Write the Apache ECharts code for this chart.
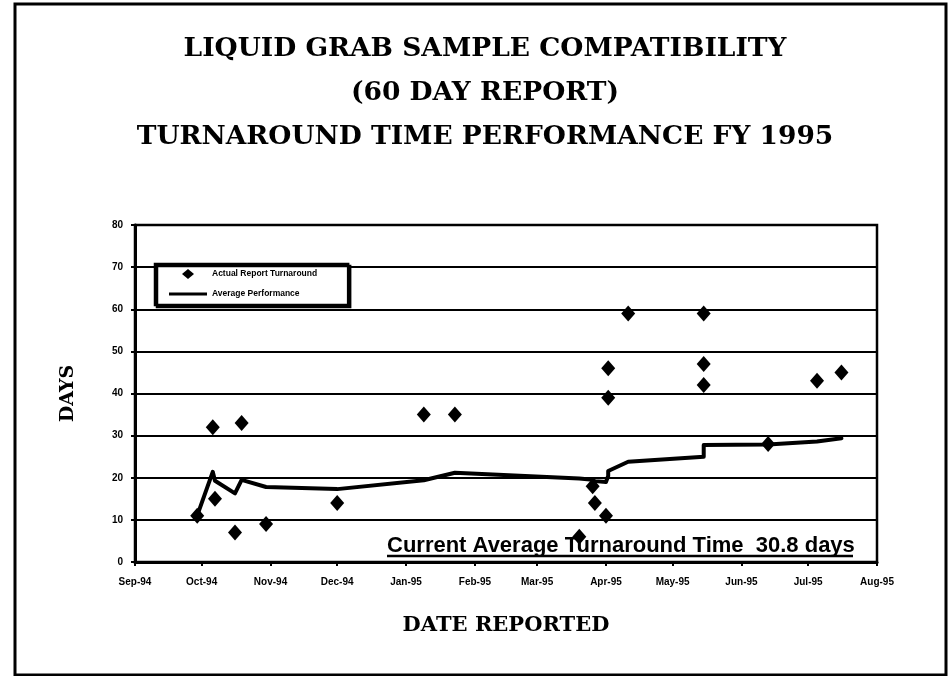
<!DOCTYPE html>
<html>
<head>
<meta charset="utf-8">
<title>Liquid Grab Sample Compatibility – Turnaround Time FY 1995</title>
<script src="https://cdn.jsdelivr.net/npm/echarts@6/dist/echarts.min.js"></script>
<style>
  html, body { margin: 0; padding: 0; background: #fff; }
  #chart { width: 950px; height: 676px; }
</style>
</head>
<body>
<div id="chart"></div>
<script>
// Report dates for each liquid grab sample (FY 1995)
const reportDates = [
  '1994-09-29', '1994-10-06', '1994-10-07', '1994-10-16', '1994-10-19', '1994-10-30',
  '1994-12-01', '1995-01-09', '1995-01-23', '1995-03-20', '1995-03-26', '1995-03-27',
  '1995-04-01', '1995-04-02', '1995-04-02', '1995-04-11', '1995-05-15', '1995-05-15',
  '1995-05-15', '1995-06-13', '1995-07-05', '1995-07-16'
];
// Actual turnaround (days) for each report
const turnaroundDays = [
  11, 32, 15, 7, 33, 9,
  14, 35, 35, 6, 18, 14,
  11, 46, 39, 59, 59, 47,
  42, 28, 43, 45
];
// Average performance (days) as of each report
const averageDays = [
  11, 21.4, 19.3, 16.3, 19.5, 17.8,
  17.3, 19.4, 21.2, 19.8, 19.5, 19.2,
  19.0, 20.4, 21.6, 23.8, 25.0, 26.8,
  27.8, 27.9, 28.6, 29.4
];
// Month tick labels, Sep-94 through Aug-95
const monthLabels = [
  'Sep-94', 'Oct-94', 'Nov-94', 'Dec-94', 'Jan-95', 'Feb-95',
  'Mar-95', 'Apr-95', 'May-95', 'Jun-95', 'Jul-95', 'Aug-95'
];
const yTicks = [0, 10, 20, 30, 40, 50, 60, 70, 80];

const titleLines = [
  'LIQUID GRAB SAMPLE COMPATIBILITY',
  '(60 DAY REPORT)',
  'TURNAROUND TIME PERFORMANCE FY 1995'
];
const noteText = 'Current Average Turnaround Time  30.8 days';

const DAY = 86400000;
const chart = echarts.init(document.getElementById('chart'), null, { renderer: 'canvas' });

const actualPoints = reportDates.map((d, i) => [d, turnaroundDays[i]]);
const averagePoints = reportDates.map((d, i) => [d, averageDays[i]]);

const serifBold = { fontFamily: 'DejaVu Serif', fontWeight: 'bold', color: '#000' };
const sansBold = { fontFamily: 'Liberation Sans', fontWeight: 'bold', color: '#000' };

// Legend icons: the leading move-to points fix the icon box at 38x10 so
// the diamond stays small and centred, and the line stays thin.
const legendDiamond = 'path://M0,0M38,10M19,0L25,5L19,10L13,5Z';
const legendLine = 'path://M0,0M38,10M0,3.6L38,3.6L38,6.4L0,6.4Z';

chart.setOption({
  animation: false,
  backgroundColor: '#fff',
  title: {
    text: titleLines.join('\n'),
    left: 480,
    top: 22,
    textAlign: 'center',
    textStyle: Object.assign({}, serifBold, { fontSize: 26.5, lineHeight: 44 })
  },
  grid: {
    left: 135, right: 73, top: 225, bottom: 114,
    show: true, borderColor: '#000', borderWidth: 2.5,
    containLabel: false
  },
  legend: {
    left: 155, top: 264,
    orient: 'vertical',
    itemWidth: 38, itemHeight: 10, itemGap: 10,
    padding: [5, 31, 6, 14],
    backgroundColor: '#fff',
    borderColor: '#000', borderWidth: 2.5, borderRadius: 0,
    shadowColor: '#000', shadowOffsetX: 2, shadowOffsetY: 2, shadowBlur: 0,
    textStyle: Object.assign({}, sansBold, { fontSize: 8.5 }),
    data: [
      { name: 'Actual Report Turnaround', icon: legendDiamond, itemStyle: { color: '#000', opacity: 1 } },
      { name: 'Average Performance', icon: legendLine, itemStyle: { color: '#000', opacity: 1 } }
    ]
  },
  xAxis: {
    type: 'time',
    min: '1994-09-01',
    max: '1995-08-01',
    minInterval: 28 * DAY,
    maxInterval: 31 * DAY,
    name: 'DATE REPORTED',
    nameLocation: 'middle',
    nameGap: 53,
    nameTextStyle: Object.assign({}, serifBold, { fontSize: 21 }),
    axisLine: { lineStyle: { color: '#000', width: 3 } },
    axisTick: { show: true, length: 4, lineStyle: { color: '#000', width: 2 } },
    splitLine: { show: false },
    axisLabel: Object.assign({}, sansBold, {
      fontSize: 10,
      margin: 15,
      interval: 0,
      showMinLabel: true,
      showMaxLabel: true,
      hideOverlap: false,
      formatter: function (val) {
        const d = new Date(val);
        const idx = (d.getFullYear() - 1994) * 12 + d.getMonth() - 8;
        return monthLabels[idx] !== undefined ? monthLabels[idx] : '';
      }
    })
  },
  yAxis: {
    type: 'value',
    min: yTicks[0],
    max: yTicks[yTicks.length - 1],
    interval: 10,
    name: 'DAYS',
    nameLocation: 'middle',
    nameRotate: 90,
    nameGap: 57,
    nameTextStyle: Object.assign({}, serifBold, { fontSize: 19 }),
    axisLine: { show: true, lineStyle: { color: '#000', width: 3 } },
    axisTick: { show: true, length: 4, lineStyle: { color: '#000', width: 2 } },
    splitLine: { show: true, lineStyle: { color: '#000', width: 2 } },
    axisLabel: Object.assign({}, sansBold, {
      fontSize: 10,
      margin: 12,
      formatter: function (v) { return yTicks.indexOf(v) >= 0 ? String(v) : ''; }
    })
  },
  series: [
    {
      name: 'Average Performance',
      type: 'line',
      data: averagePoints,
      symbol: 'none',
      smooth: false,
      lineStyle: { color: '#000', width: 4, join: 'round', cap: 'round' },
      itemStyle: { color: '#000' },
      z: 3
    },
    {
      name: 'Actual Report Turnaround',
      type: 'scatter',
      data: actualPoints,
      symbol: 'diamond',
      symbolSize: [14, 16],
      itemStyle: { color: '#000', opacity: 1 },
      z: 4
    }
  ],
  graphic: [
    {
      // outer page frame
      type: 'rect',
      shape: { x: 15, y: 4, width: 931, height: 671 },
      style: { fill: 'none', stroke: '#000', lineWidth: 3 },
      silent: true
    },
    {
      type: 'text',
      x: 387, y: 557,
      style: {
        text: noteText,
        font: 'bold 22px "Liberation Sans"',
        fill: '#000',
        textVerticalAlign: 'bottom',
        verticalAlign: 'bottom'
      },
      z: 10
    },
    {
      type: 'line',
      shape: { x1: 387, y1: 556, x2: 853, y2: 556 },
      style: { stroke: '#000', lineWidth: 2.5 },
      z: 10
    }
  ]
});
</script>
</body>
</html>
